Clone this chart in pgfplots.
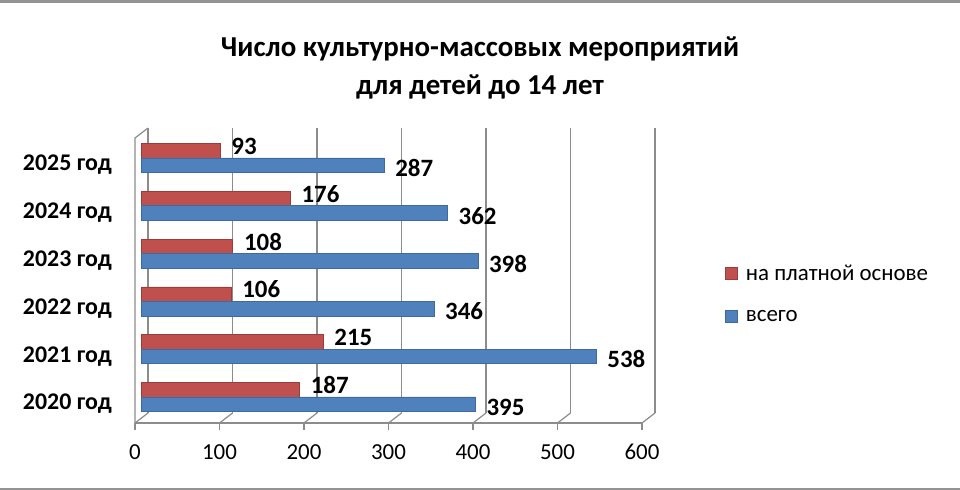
\documentclass[border=0pt]{standalone}
\usepackage{fontspec}
\setmainfont{Carlito}
\usepackage{pgfplots}
\pgfplotsset{compat=1.18}
\definecolor{redbar}{HTML}{C0504D}
\definecolor{rededge}{HTML}{9A3D3A}
\definecolor{bluebar}{HTML}{4F81BD}
\definecolor{blueedge}{HTML}{3F6A9E}
\definecolor{gridc}{HTML}{8C8C8C}
\begin{document}
\begin{tikzpicture}
\path[use as bounding box] (0,0) rectangle (960bp,-490bp);
\fill[gray!85] (0,0) rectangle (960bp,-2.5bp);
\fill[gray!85] (0,-487.5bp) rectangle (960bp,-490bp);
\begin{axis}[
  at={(141.5bp,-418bp)}, anchor=south west,
  scale only axis, width=507bp, height=285bp,
  xmin=0, xmax=600, ymin=-0.44, ymax=5.52,
  axis line style={draw=none},
  major tick length=0pt,
  xtick={0,100,200,300,400,500,600},
  ytick={0,1,2,3,4,5},
  yticklabels={2020 год,2021 год,2022 год,2023 год,2024 год,2025 год},
  /pgf/number format/assume math mode=true,
  xticklabel style={font=\fontsize{23}{27}\selectfont, anchor=center, inner sep=0pt, xshift=-6.5bp, yshift=-34bp},
  yticklabel style={font=\bfseries\fontsize{24}{28}\selectfont, anchor=east, inner sep=0pt, xshift=-29.5bp, yshift=-7bp},
  xbar, bar width=14.5bp,
  legend image code/.code={\fill[#1] (0bp,-6bp) rectangle (12bp,6bp);},
  legend style={at={(axis description cs:1.151,0.435)}, anchor=west, draw=none, fill=none,
    font=\fontsize{23}{27}\selectfont, inner sep=0pt, row sep=28bp, column sep=8bp,
    nodes={inner sep=0pt}},
  legend cell align=left,
  nodes near coords,
  clip=false,
  title={Число культурно-массовых мероприятий\\для детей до 14 лет},
  title style={at={(axis description cs:0.6677,1.207)}, anchor=center, align=center,
    font=\bfseries\fontsize{29}{38}\selectfont, inner sep=0pt},
]
\pgfplotsinvokeforeach{0,100,200,300,400,500,600}{
  \draw[gridc, line width=1.2bp] ([xshift=6.5bp,yshift=5bp]axis cs:#1,-0.44) -- ([xshift=6.5bp,yshift=5bp]axis cs:#1,5.52);
  \draw[gridc, line width=1.2bp] ([xshift=-6.5bp,yshift=-5bp]axis cs:#1,-0.44) -- ([xshift=6.5bp,yshift=5bp]axis cs:#1,-0.44);
  \draw[gridc, line width=1.2bp] ([xshift=-6.5bp,yshift=-5bp]axis cs:#1,-0.44) -- ([xshift=-6.5bp,yshift=-12bp]axis cs:#1,-0.44);
}
\draw[gridc, line width=1.2bp] ([xshift=-6.5bp,yshift=-5bp]axis cs:0,-0.44) -- ([xshift=-6.5bp,yshift=-5bp]axis cs:600,-0.44);
\draw[gridc, line width=1.2bp] ([xshift=-6.5bp,yshift=-5bp]axis cs:0,-0.44) -- ([xshift=-6.5bp,yshift=-5bp]axis cs:0,5.52) -- ([xshift=6.5bp,yshift=5bp]axis cs:0,5.52);
\addplot[fill=redbar, draw=rededge, line width=0.6bp, bar shift=7.25bp,
  nodes near coords style={font=\bfseries\fontsize{25}{29}\selectfont, anchor=west, inner sep=0pt, xshift=11bp, yshift=4.5bp, black}]
  coordinates {(187,0) (215,1) (106,2) (108,3) (176,4) (93,5)};
\addlegendentry{на платной основе}
\addplot[fill=bluebar, draw=blueedge, line width=0.6bp, bar shift=-7.25bp,
  nodes near coords style={font=\bfseries\fontsize{25}{29}\selectfont, anchor=west, inner sep=0pt, xshift=11bp, yshift=-3bp, black}]
  coordinates {(395,0) (538,1) (346,2) (398,3) (362,4) (287,5)};
\addlegendentry{всего}
\end{axis}
\end{tikzpicture}
\end{document}
